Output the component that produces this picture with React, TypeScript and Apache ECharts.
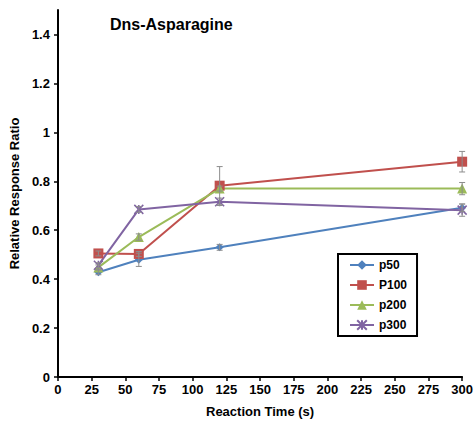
import React, { useEffect, useRef } from "react";
import * as echarts from "echarts";

const times = [30, 60, 120, 300];
const seriesNames = ["p50", "P100", "p200", "p300"];
const p50 = [0.428, 0.479, 0.53, 0.692];
const p100 = [0.505, 0.503, 0.782, 0.88];
const p200 = [0.448, 0.572, 0.77, 0.77];
const p300 = [0.457, 0.685, 0.716, 0.682];
const p50Err = [0.01, 0.027, 0.012, 0.015];
const p100Err = [0.01, 0.01, 0.078, 0.042];
const p200Err = [0.01, 0.013, 0.01, 0.025];
const p300Err = [0.01, 0.012, 0.015, 0.025];
const yTicks = [0, 0.2, 0.4, 0.6, 0.8, 1, 1.2, 1.4];
const xTicks = [0, 25, 50, 75, 100, 125, 150, 175, 200, 225, 250, 275, 300];

const colors = ["#4F81BD", "#C0504D", "#9BBB59", "#8064A2"];
const symbols = [
  "diamond",
  "rect",
  "triangle",
  "path://M0,0 L10,10 M10,0 L0,10 M5,0 L5,10",
];
const symbolSizes = [8, 10, 10, 9];
const values = [p50, p100, p200, p300];
const errs = [p50Err, p100Err, p200Err, p300Err];

export default function App() {
  const ref = useRef<HTMLDivElement>(null);
  useEffect(() => {
    document.body.style.margin = "0";
    if (!ref.current) return;
    const chart = echarts.init(ref.current, undefined, { renderer: "svg" });
    const font = "'Liberation Sans', Arial, sans-serif";
    const lineSeries = seriesNames.map((name, i) => ({
      name,
      type: "line",
      data: times.map((t, j) => [t, values[i][j]]),
      symbol: symbols[i],
      symbolSize: symbolSizes[i],
      showAllSymbol: true,
      lineStyle: { color: colors[i], width: 2 },
      itemStyle: {
        color: colors[i],
        borderColor: colors[i],
        borderWidth: i === 3 ? 1.5 : 0,
      },
      z: 3,
    }));
    const errSeries = seriesNames.map((name, i) => ({
      name: name + "-err",
      type: "custom",
      data: times.map((t, j) => [t, values[i][j], errs[i][j]]),
      z: 4,
      renderItem: (_params: any, api: any) => {
        const x = api.value(0);
        const y = api.value(1);
        const e = api.value(2);
        const top = api.coord([x, y + e]);
        const bot = api.coord([x, y - e]);
        const style = { stroke: "#8c8c8c", lineWidth: 1 };
        return {
          type: "group",
          children: [
            { type: "line", shape: { x1: top[0], y1: top[1], x2: bot[0], y2: bot[1] }, style },
            { type: "line", shape: { x1: top[0] - 3, y1: top[1], x2: top[0] + 3, y2: top[1] }, style },
            { type: "line", shape: { x1: bot[0] - 3, y1: bot[1], x2: bot[0] + 3, y2: bot[1] }, style },
          ],
        };
      },
    }));
    chart.setOption({
      animation: false,
      backgroundColor: "#ffffff",
      title: {
        text: "Dns-Asparagine",
        left: 110,
        top: 16,
        padding: 0,
        textStyle: { fontFamily: font, fontSize: 16, fontWeight: "bold", color: "#000" },
      },
      grid: { left: 54, right: 13, top: 10, bottom: 48, containLabel: false },
      legend: {
        data: seriesNames,
        orient: "vertical",
        left: 338,
        top: 254,
        width: 79,
        padding: [5, 10, 5, 11],
        itemGap: 8,
        itemWidth: 24,
        itemHeight: 12,
        borderColor: "#000",
        borderWidth: 2,
        textStyle: { fontFamily: font, fontSize: 12, fontWeight: "bold", color: "#000" },
      },
      xAxis: {
        type: "value",
        min: 0,
        max: 300,
        interval: 25,
        name: "Reaction Time (s)",
        nameLocation: "middle",
        nameGap: 28,
        nameTextStyle: { fontFamily: font, fontSize: 13, fontWeight: "bold", color: "#000" },
        axisLine: { show: true, lineStyle: { color: "#000", width: 2 } },
        axisTick: { show: true, length: 4, lineStyle: { color: "#000", width: 1.5 }, customValues: xTicks },
        axisLabel: { fontFamily: font, fontSize: 13, fontWeight: "bold", color: "#000", margin: 6, customValues: xTicks },
        splitLine: { show: false },
      },
      yAxis: {
        type: "value",
        min: 0,
        max: 1.5,
        name: "Relative Response Ratio",
        nameLocation: "middle",
        nameGap: 33,
        nameTextStyle: { fontFamily: font, fontSize: 13, fontWeight: "bold", color: "#000" },
        axisLine: { show: true, lineStyle: { color: "#000", width: 2 } },
        axisTick: { show: true, length: 4, lineStyle: { color: "#000", width: 1.5 }, customValues: yTicks },
        axisLabel: { fontFamily: font, fontSize: 13, fontWeight: "bold", color: "#000", margin: 8, customValues: yTicks },
        splitLine: { show: false },
      },
      series: [...errSeries, ...lineSeries],
    });
    return () => chart.dispose();
  }, []);
  return <div ref={ref} style={{ width: 476, height: 425 }} />;
}
